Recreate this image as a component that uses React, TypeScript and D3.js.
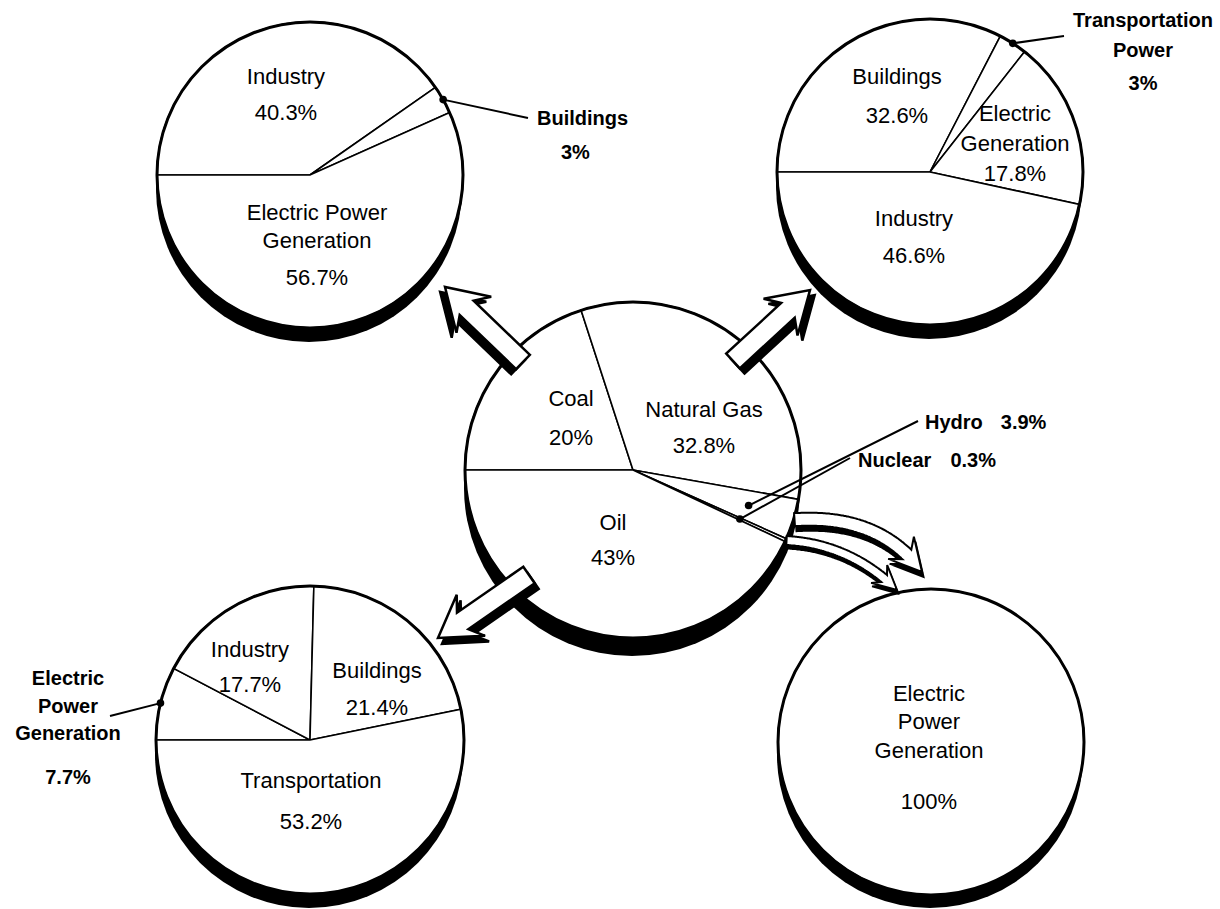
import React from "react";
import * as d3 from "d3";

const W = 1220;
const H = 909;
const FONT = "'Liberation Sans', Arial, Helvetica, sans-serif";

// Primary energy sources (center pie), clockwise from 9 o'clock
const sourceNames = ["Coal", "Natural Gas", "Hydro", "Nuclear", "Oil"];
const sourceShares = [20, 32.8, 3.9, 0.3, 43];

// Where coal goes
const coalUses = ["Industry", "Buildings", "Electric Power\nGeneration"];
const coalShares = [40.3, 3, 56.7];

// Where natural gas goes
const gasUses = ["Buildings", "Transportation\nPower", "Electric\nGeneration", "Industry"];
const gasShares = [32.6, 3, 17.8, 46.6];

// Where oil goes
const oilUses = ["Electric\nPower\nGeneration", "Industry", "Buildings", "Transportation"];
const oilShares = [7.7, 17.7, 21.4, 53.2];

// Where hydro and nuclear go
const hydroNuclearUses = ["Electric\nPower\nGeneration"];
const hydroNuclearShares = [100];

type Pt = [number, number];

type Inside = { kind: "inside"; x: number; y: number; lg?: number; vg: number };
type Callout = {
  kind: "callout";
  dot: number; // fraction of radius where the leader starts
  end: Pt; // leader end, relative to pie centre
  tx: number;
  ty: number;
  anchor: "start" | "middle";
  lg?: number;
  vg?: number;
  vdx?: number;
  inline?: number; // gap before the value when on the same line
};
type LabelSpec = Inside | Callout | null;

interface PieDef {
  key: string;
  cx: number;
  cy: number;
  r: number;
  shadow: number;
  names: string[];
  values: number[];
  labels: LabelSpec[];
}

const pies: PieDef[] = [
  {
    key: "coal",
    cx: 310,
    cy: 175,
    r: 153,
    shadow: 14,
    names: coalUses,
    values: coalShares,
    labels: [
      { kind: "inside", x: -24, y: -99, vg: 36 },
      { kind: "callout", dot: 1, end: [218, -57], tx: 227, ty: -57, anchor: "start", vg: 34, vdx: 24 },
      { kind: "inside", x: 7, y: 37, lg: 28, vg: 37 },
    ],
  },
  {
    key: "gas",
    cx: 930,
    cy: 172,
    r: 153,
    shadow: 14,
    names: gasUses,
    values: gasShares,
    labels: [
      { kind: "inside", x: -33, y: -96, vg: 39 },
      { kind: "callout", dot: 1, end: [134, -136], tx: 213, ty: -152, anchor: "middle", lg: 30, vg: 33 },
      { kind: "inside", x: 85, y: -59, lg: 30, vg: 30 },
      { kind: "inside", x: -16, y: 46, vg: 37 },
    ],
  },
  {
    key: "oil",
    cx: 310,
    cy: 740,
    r: 154,
    shadow: 14,
    names: oilUses,
    values: oilShares,
    labels: [
      { kind: "callout", dot: 1, end: [-200, -24], tx: -242, ty: -62, anchor: "middle", lg: 27.5, vg: 44 },
      { kind: "inside", x: -60, y: -91, vg: 35 },
      { kind: "inside", x: 67, y: -70, vg: 37 },
      { kind: "inside", x: 1, y: 40, vg: 41 },
    ],
  },
  {
    key: "hydronuclear",
    cx: 931,
    cy: 742,
    r: 153,
    shadow: 13,
    names: hydroNuclearUses,
    values: hydroNuclearShares,
    labels: [{ kind: "inside", x: -2, y: -49, lg: 28.5, vg: 51 }],
  },
  {
    key: "sources",
    cx: 633,
    cy: 470,
    r: 168,
    shadow: 18,
    names: sourceNames,
    values: sourceShares,
    labels: [
      { kind: "inside", x: -62, y: -72, vg: 39 },
      { kind: "inside", x: 71, y: -61, vg: 36 },
      { kind: "callout", dot: 0.72, end: [285, -49], tx: 292, ty: -48, anchor: "start", inline: 18 },
      { kind: "callout", dot: 0.7, end: [217, -12], tx: 225, ty: -10, anchor: "start", inline: 19 },
      { kind: "inside", x: -20, y: 52, vg: 35 },
    ],
  },
];

const pieLayout = d3
  .pie<number>()
  .sort(null)
  .value((d) => d)
  .startAngle(-Math.PI / 2)
  .endAngle((3 * Math.PI) / 2);

const fmt = (v: number) => `${v}%`;

const polar = (a: number, r: number): Pt => [r * Math.sin(a), -r * Math.cos(a)];

function polyPath(pts: Pt[]) {
  return "M" + pts.map((p) => `${p[0].toFixed(1)},${p[1].toFixed(1)}`).join("L") + "Z";
}

// Broad hollow arrow with swept-back barbs
function straightArrow(base: Pt, tip: Pt, w: number, hw: number, hb: number, hn: number): Pt[] {
  const dx = tip[0] - base[0];
  const dy = tip[1] - base[1];
  const L = Math.hypot(dx, dy);
  const d: Pt = [dx / L, dy / L];
  const n: Pt = [-d[1], d[0]];
  const at = (s: number, o: number): Pt => [base[0] + d[0] * s + n[0] * o, base[1] + d[1] * s + n[1] * o];
  return [at(0, w), at(L - hn, w), at(L - hb, hw), at(L, 0), at(L - hb, -hw), at(L - hn, -w), at(0, -w)];
}

function downNormal(a: Pt, b: Pt, k: number): Pt {
  const dx = b[0] - a[0];
  const dy = b[1] - a[1];
  const L = Math.hypot(dx, dy);
  let n: Pt = [-dy / L, dx / L];
  if (n[1] < 0) n = [-n[0], -n[1]];
  return [n[0] * k, n[1] * k];
}

// Curved arrow following a quadratic Bezier centreline
function curvedArrow(s: Pt, c: Pt, tip: Pt, w: number, hw: number, hb: number, hn: number): Pt[] {
  const N = 120;
  const q = (t: number): Pt => [
    (1 - t) * (1 - t) * s[0] + 2 * (1 - t) * t * c[0] + t * t * tip[0],
    (1 - t) * (1 - t) * s[1] + 2 * (1 - t) * t * c[1] + t * t * tip[1],
  ];
  const dq = (t: number): Pt => {
    const x = 2 * (1 - t) * (c[0] - s[0]) + 2 * t * (tip[0] - c[0]);
    const y = 2 * (1 - t) * (c[1] - s[1]) + 2 * t * (tip[1] - c[1]);
    const L = Math.hypot(x, y);
    return [x / L, y / L];
  };
  const samples: { t: number; p: Pt; len: number }[] = [];
  let len = 0;
  let prev = q(0);
  for (let i = 0; i <= N; i++) {
    const t = i / N;
    const p = q(t);
    len += Math.hypot(p[0] - prev[0], p[1] - prev[1]);
    samples.push({ t, p, len });
    prev = p;
  }
  const total = len;
  const shaft = samples.filter((sm) => sm.len <= total - hn);
  const left: Pt[] = [];
  const right: Pt[] = [];
  shaft.forEach((sm) => {
    const d = dq(sm.t);
    const n: Pt = [-d[1], d[0]];
    left.push([sm.p[0] + n[0] * w, sm.p[1] + n[1] * w]);
    right.push([sm.p[0] - n[0] * w, sm.p[1] - n[1] * w]);
  });
  const end = shaft[shaft.length - 1];
  const dE: Pt = (() => {
    const x = tip[0] - end.p[0];
    const y = tip[1] - end.p[1];
    const L = Math.hypot(x, y);
    return [x / L, y / L];
  })();
  const nE: Pt = [-dE[1], dE[0]];
  const barbL: Pt = [tip[0] - dE[0] * hb + nE[0] * hw, tip[1] - dE[1] * hb + nE[1] * hw];
  const barbR: Pt = [tip[0] - dE[0] * hb - nE[0] * hw, tip[1] - dE[1] * hb - nE[1] * hw];
  return [...left, barbL, tip, barbR, ...right.reverse()];
}

export default function App() {
  const arc = (r: number) => d3.arc<d3.PieArcDatum<number>>().innerRadius(0).outerRadius(r);

  const laid = pies.map((p) => ({ ...p, arcs: pieLayout(p.values) }));
  const src = laid.find((p) => p.key === "sources")!;
  const mid = (a: d3.PieArcDatum<number>) => (a.startAngle + a.endAngle) / 2;

  // Straight arrows from the source pie to three of the use pies
  const straight: { base: Pt; tip: Pt }[] = [
    { base: [-110, -108], tip: [-188, -183] },
    { base: [100, -109], tip: [177, -180] },
    { base: [-104, 105], tip: [-195, 168] },
  ].map((a) => ({
    base: [src.cx + a.base[0], src.cy + a.base[1]] as Pt,
    tip: [src.cx + a.tip[0], src.cy + a.tip[1]] as Pt,
  }));

  // Curved arrows leaving the hydro and nuclear slices
  const hydroArc = src.arcs[2];
  const nucArc = src.arcs[3];
  const hStart = polar(mid(hydroArc), src.r + 1);
  const nStart = polar(mid(nucArc), src.r + 1);
  const curveA = curvedArrow(
    [src.cx + hStart[0], src.cy + hStart[1]],
    [src.cx + 247, src.cy + 44],
    [src.cx + 289, src.cy + 102],
    6.5,
    17,
    32,
    23
  );
  const curveB = curvedArrow(
    [src.cx + nStart[0], src.cy + nStart[1]],
    [src.cx + 217, src.cy + 74],
    [src.cx + 264, src.cy + 120],
    4.5,
    12,
    24,
    17
  );

  const textEls: React.ReactNode[] = [];
  const leaderEls: React.ReactNode[] = [];

  laid.forEach((p) => {
    p.arcs.forEach((a, i) => {
      const spec = p.labels[i];
      if (!spec) return;
      const lines = p.names[i].split("\n");
      const value = fmt(p.values[i]);
      if (spec.kind === "inside") {
        const lg = spec.lg ?? 28;
        const lastY = spec.y + (lines.length - 1) * lg;
        lines.forEach((ln, k) =>
          textEls.push(
            <text
              key={`${p.key}-${i}-l${k}`}
              x={p.cx + spec.x}
              y={p.cy + spec.y + k * lg}
              textAnchor="middle"
              dominantBaseline="central"
              fontSize={22}
              fontFamily={FONT}
              fill="#000"
            >
              {ln}
            </text>
          )
        );
        textEls.push(
          <text
            key={`${p.key}-${i}-v`}
            x={p.cx + spec.x}
            y={p.cy + lastY + spec.vg}
            textAnchor="middle"
            dominantBaseline="central"
            fontSize={22}
            fontFamily={FONT}
            fill="#000"
          >
            {value}
          </text>
        );
      } else {
        const m = mid(a);
        const d = polar(m, p.r * spec.dot);
        const dot: Pt = [p.cx + d[0], p.cy + d[1]];
        const end: Pt = [p.cx + spec.end[0], p.cy + spec.end[1]];
        leaderEls.push(
          <g key={`${p.key}-${i}-lead`}>
            <line x1={dot[0]} y1={dot[1]} x2={end[0]} y2={end[1]} stroke="#000" strokeWidth={2} />
            <circle cx={dot[0]} cy={dot[1]} r={3.8} fill="#000" />
          </g>
        );
        if (spec.inline !== undefined) {
          textEls.push(
            <text
              key={`${p.key}-${i}-c`}
              x={p.cx + spec.tx}
              y={p.cy + spec.ty}
              textAnchor="start"
              dominantBaseline="central"
              fontSize={20}
              fontWeight="bold"
              fontFamily={FONT}
              fill="#000"
            >
              {lines.join(" ")}
              <tspan dx={spec.inline}>{value}</tspan>
            </text>
          );
        } else {
          const lg = spec.lg ?? 28;
          const lastY = spec.ty + (lines.length - 1) * lg;
          lines.forEach((ln, k) =>
            textEls.push(
              <text
                key={`${p.key}-${i}-c${k}`}
                x={p.cx + spec.tx}
                y={p.cy + spec.ty + k * lg}
                textAnchor={spec.anchor}
                dominantBaseline="central"
                fontSize={20}
                fontWeight="bold"
                fontFamily={FONT}
                fill="#000"
              >
                {ln}
              </text>
            )
          );
          textEls.push(
            <text
              key={`${p.key}-${i}-cv`}
              x={p.cx + spec.tx + (spec.vdx ?? 0)}
              y={p.cy + lastY + (spec.vg ?? 34)}
              textAnchor={spec.anchor}
              dominantBaseline="central"
              fontSize={20}
              fontWeight="bold"
              fontFamily={FONT}
              fill="#000"
            >
              {value}
            </text>
          );
        }
      }
    });
  });

  return (
    <svg
      width={W}
      height={H}
      viewBox={`0 0 ${W} ${H}`}
      style={{ position: "absolute", left: 0, top: 0, background: "#fff", display: "block" }}
    >
      <rect x={0} y={0} width={W} height={H} fill="#fff" />

      {/* drop shadows under each pie */}
      {laid.map((p) => (
        <circle key={`sh-${p.key}`} cx={p.cx - 1} cy={p.cy + p.shadow} r={p.r} fill="#000" />
      ))}

      {/* pies */}
      {laid.map((p) => {
        const a = arc(p.r);
        return (
          <g key={`pie-${p.key}`} transform={`translate(${p.cx},${p.cy})`}>
            {p.arcs.map((s, i) => (
              <path key={i} d={a(s) ?? ""} fill="#fff" stroke="#000" strokeWidth={1.6} strokeLinejoin="miter" />
            ))}
            <circle r={p.r} fill="none" stroke="#000" strokeWidth={3} />
          </g>
        );
      })}

      {/* straight flow arrows */}
      {straight.map((s, i) => {
        const pts = straightArrow(s.base, s.tip, 10, 25, 40, 30);
        const off = downNormal(s.base, s.tip, 7);
        const shadowPts = pts.map((q) => [q[0] + off[0], q[1] + off[1]] as Pt);
        return (
          <g key={`arr-${i}`}>
            <path d={polyPath(shadowPts)} fill="#000" stroke="#000" strokeWidth={2.5} strokeLinejoin="miter" />
            <path d={polyPath(pts)} fill="#fff" stroke="#000" strokeWidth={2.5} strokeLinejoin="miter" />
          </g>
        );
      })}

      {/* curved arrows to electric power generation */}
      {[curveA, curveB].map((pts, i) => {
        const off: Pt = i === 0 ? [1.5, 5] : [1, 3.5];
        const shadowPts = pts.map((q) => [q[0] + off[0], q[1] + off[1]] as Pt);
        return (
          <g key={`curve-${i}`}>
            <path d={polyPath(shadowPts)} fill="#000" stroke="#000" strokeWidth={2} strokeLinejoin="miter" />
            <path d={polyPath(pts)} fill="#fff" stroke="#000" strokeWidth={2} strokeLinejoin="miter" />
          </g>
        );
      })}

      {leaderEls}
      {textEls}
    </svg>
  );
}
